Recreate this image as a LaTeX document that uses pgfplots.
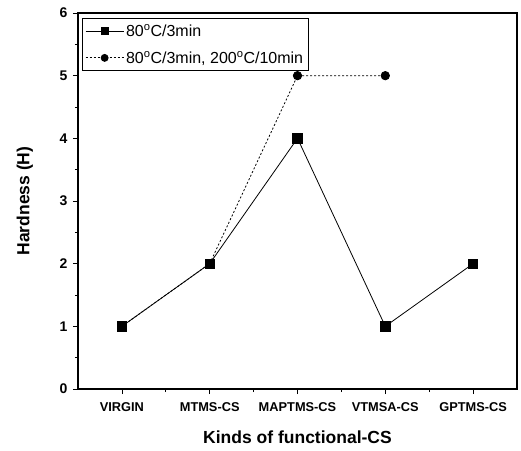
\documentclass[border=0pt]{standalone}
\usepackage{fontspec}
\setmainfont{Liberation Sans}
\usepackage{pgfplots}
\pgfplotsset{compat=1.18}
\begin{document}
\begin{tikzpicture}
\useasboundingbox (-78pt,-61pt) rectangle (443pt,389pt);
\begin{axis}[
  at={(0pt,0pt)}, anchor=south west,
  scale only axis,
  width=439pt, height=376pt,
  xmin=-0.5, xmax=4.5, ymin=0, ymax=6,
  xtick={0,1,2,3,4},
  xticklabels={VIRGIN,MTMS-CS,MAPTMS-CS,VTMSA-CS,GPTMS-CS},
  minor xtick={0.5,1.5,2.5,3.5},
  ytick={0,1,2,3,4,5,6},
  minor ytick={0.5,1.5,2.5,3.5,4.5,5.5},
  tick align=outside,
  xtick pos=bottom, ytick pos=left,
  major tick length=5pt, minor tick length=3pt,
  tick style={black, line width=0.8pt},
  axis line style={line width=1.2pt},
  /pgf/number format/assume math mode=true,
  xticklabel style={font=\fontsize{12.8}{15}\selectfont\bfseries, yshift=-5pt},
  yticklabel style={font=\fontsize{14}{16}\selectfont\bfseries, xshift=-2pt},
  xlabel={Kinds of functional-CS},
  ylabel={Hardness (H)},
  label style={font=\fontsize{17.5}{20}\selectfont\bfseries},
  xlabel style={at={(axis description cs:0.5,-0.128)}, anchor=center},
  ylabel style={at={(axis description cs:-0.121,0.5)}, anchor=center},
  legend style={at={(0.009,0.987)}, anchor=north west, draw=black, line width=0.6pt, fill=white,
    font=\fontsize{16}{18}\selectfont, row sep=9pt, inner xsep=3pt, inner ysep=4pt},
  legend cell align=left,
  legend image code/.code={\draw[mark repeat=2,mark phase=2,#1,mark size=3.5pt] plot coordinates {(0pt,0pt) (19pt,0pt) (38pt,0pt)};},
]
\addplot[black, line width=0.8pt, mark=square*, mark size=4.7pt] coordinates {
  (0,1) (1,2) (2,4) (3,1) (4,2)
};
\addlegendentry{80\textsuperscript{o}C/3min}
\addplot[black, line width=0.8pt, dash pattern=on 2pt off 2pt, mark=*, mark size=4.2pt, mark options={solid}] coordinates {
  (0,1) (1,2) (2,5) (3,5)
};
\addlegendentry{80\textsuperscript{o}C/3min, 200\textsuperscript{o}C/10min}
\end{axis}
\end{tikzpicture}
\end{document}
